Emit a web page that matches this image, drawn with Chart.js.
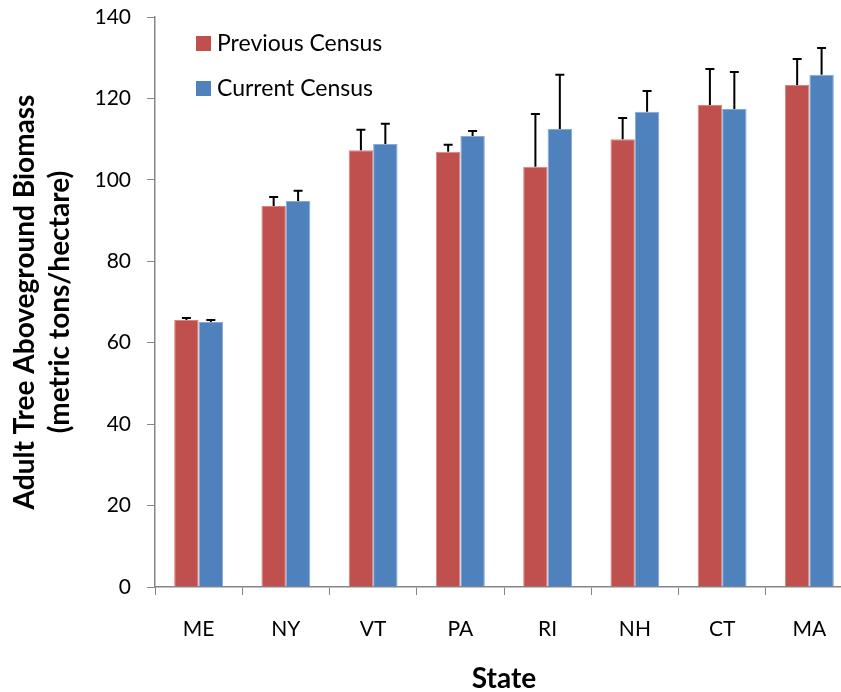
<!DOCTYPE html>
<html>
<head>
<meta charset="utf-8">
<script src="https://cdn.jsdelivr.net/npm/chart.js@4.4.0/dist/chart.umd.min.js"></script>
<style>
  html, body { margin: 0; padding: 0; background: #fff; overflow: hidden; }
  #wrap { width: 854px; height: 692px; }
</style>
</head>
<body>
<div id="wrap"><canvas id="biomass" width="854" height="692"></canvas></div>
<script>
const states = ['ME', 'NY', 'VT', 'PA', 'RI', 'NH', 'CT', 'MA']
const previousCensus = [65.6, 93.6, 107.3, 106.9, 103.2, 110.0, 118.4, 123.3]
const currentCensus = [65.1, 94.8, 108.8, 110.8, 112.5, 116.7, 117.4, 125.8]
// upper error bar lengths
const previousErr = [0.5, 2.2, 5.0, 1.7, 13.0, 5.2, 8.8, 6.4]
const currentErr = [0.5, 2.5, 5.0, 1.2, 13.3, 5.1, 9.1, 6.6]
const yTicks = [0, 20, 40, 60, 80, 100, 120, 140]

const RED = '#C0504D'
const BLUE = '#4F81BD'
const AXIS = '#868686'
const FONT = 'Lato'

const errorBars = {
    id: 'errorBars',
    afterDatasetsDraw(chart) {
        const ctx = chart.ctx
        const y = chart.scales.y
        chart.data.datasets.forEach((ds, i) => {
            const meta = chart.getDatasetMeta(i)
            meta.data.forEach((bar, j) => {
                const top = y.getPixelForValue(ds.data[j] + ds.errors[j])
                ctx.save()
                ctx.strokeStyle = '#000'
                ctx.lineWidth = 2
                ctx.beginPath()
                ctx.moveTo(bar.x, bar.y)
                ctx.lineTo(bar.x, top)
                ctx.moveTo(bar.x - 4.5, top)
                ctx.lineTo(bar.x + 4.5, top)
                ctx.stroke()
                ctx.restore()
            })
        })
    }
}

const insideLegend = {
    id: 'insideLegend',
    afterDraw(chart) {
        const ctx = chart.ctx
        const left = chart.chartArea.left + 41
        chart.data.datasets.forEach((ds, i) => {
            const top = 36 + i * 45
            ctx.save()
            ctx.fillStyle = ds.backgroundColor
            ctx.fillRect(left, top, 15, 15)
            ctx.fillStyle = '#000'
            ctx.font = `23px ${FONT}`
            ctx.textBaseline = 'middle'
            ctx.fillText(ds.label, left + 21, top + 8)
            ctx.restore()
        })
    }
}

new Chart(document.getElementById('biomass'), {
    type: 'bar',
    data: {
        labels: states,
        datasets: [{
            label: 'Previous Census',
            data: previousCensus,
            errors: previousErr,
            backgroundColor: RED,
            borderColor: '#D8857F',
            borderWidth: 1,
        }, {
            label: 'Current Census',
            data: currentCensus,
            errors: currentErr,
            backgroundColor: BLUE,
            borderColor: '#86A9D6',
            borderWidth: 1,
        }]
    },
    options: {
        responsive: false,
        animation: false,
        devicePixelRatio: 1,
        layout: { padding: { top: 17, right: 1, left: 0, bottom: 0 } },
        datasets: { bar: { barPercentage: 1, categoryPercentage: 0.56 } },
        plugins: {
            legend: { display: false },
            tooltip: { enabled: false },
        },
        scales: {
            x: {
                afterFit: (scale) => {
                    scale.height = 105
                    scale.paddingTop = 0
                    scale.paddingBottom = 0
                },
                grid: { drawOnChartArea: false, tickLength: 8, color: AXIS, offset: true },
                border: { color: AXIS, width: 1.5 },
                ticks: { color: '#000', font: { family: FONT, size: 21 }, padding: 22 },
                title: {
                    display: true, text: 'State', color: '#000',
                    font: { family: FONT, size: 28, weight: 'bold', lineHeight: 0.9 },
                    padding: { top: 0, bottom: 0 }
                }
            },
            y: {
                min: 0, max: 140,
                afterFit: (scale) => {
                    scale.width = 155
                    scale.paddingTop = 0
                    scale.paddingBottom = 0
                },
                afterBuildTicks: (scale) => { scale.ticks = yTicks.map(v => ({ value: v })) },
                grid: { drawOnChartArea: false, tickLength: 8, color: AXIS },
                border: { color: AXIS, width: 1.5 },
                ticks: { color: '#000', font: { family: FONT, size: 21 }, padding: 16 },
                title: {
                    display: true,
                    text: ['Adult Tree Aboveground Biomass', '(metric tons/hectare)'],
                    color: '#000',
                    font: { family: FONT, size: 28, weight: 'bold', lineHeight: 1.25 },
                    padding: { top: 7, bottom: 0 }
                }
            }
        }
    },
    plugins: [errorBars, insideLegend]
})
</script>
</body>
</html>
